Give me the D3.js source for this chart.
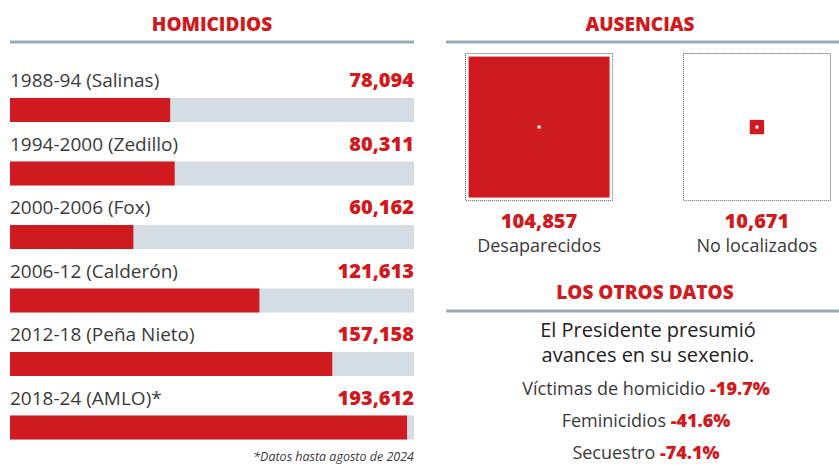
<!DOCTYPE html>
<html>
<head>
<meta charset="utf-8">
<script src="https://cdn.jsdelivr.net/npm/d3@7"></script>
<style>
  body { margin: 0; background: #fff; }
  text { font-family: "Open Sans", sans-serif; }
</style>
</head>
<body>
<div id="container"></div>
<script>
// CONSTANTS ###############################
const width = 839,
  height = 465;

const red = "#cf1a20",
  grey = "#d5dde4",
  rule = "#9aabb5",
  ink = "#3a3a3a";

// DATA ####################################
const periods = ["1988-94 (Salinas)", "1994-2000 (Zedillo)", "2000-2006 (Fox)",
  "2006-12 (Calderón)", "2012-18 (Peña Nieto)", "2018-24 (AMLO)*"];
const homicides = [78094, 80311, 60162, 121613, 157158, 193612];

const absenceLabels = ["Desaparecidos", "No localizados"];
const absenceValues = [104857, 10671];

const otherLabels = ["Víctimas de homicidio", "Feminicidios", "Secuestro"];
const otherValues = ["-19.7%", "-41.6%", "-74.1%"];

const fmt = d3.format(",");

// SVG ####################################
const svg = d3.select("#container")
  .append("svg")
  .attr("width", width)
  .attr("height", height);

// HOMICIDIOS ------------------------------
const left = { x0: 10, x1: 414 };

svg.append("text")
  .attr("x", 212).attr("y", 31)
  .attr("text-anchor", "middle")
  .attr("fill", red)
  .style("font-weight", 800)
  .style("font-size", "19px")
  .text("HOMICIDIOS");

svg.append("line")
  .attr("x1", left.x0).attr("x2", left.x1)
  .attr("y1", 42).attr("y2", 42)
  .attr("stroke", rule).attr("stroke-width", 3);

const xScale = d3.scaleLinear()
  .domain([0, 197000])
  .range([left.x0, left.x1]);

const yScale = d3.scaleBand()
  .domain(periods)
  .range([60, 441])
  .paddingInner(0);

const rows = svg.selectAll("g.row")
  .data(periods)
  .join("g")
  .attr("class", "row")
  .attr("transform", d => `translate(0,${yScale(d)})`);

rows.append("text")
  .attr("x", left.x0).attr("y", 27)
  .attr("fill", ink)
  .style("font-size", "19px")
  .text(d => d);

rows.append("text")
  .attr("x", left.x1).attr("y", 27)
  .attr("text-anchor", "end")
  .attr("fill", red)
  .style("font-weight", 800)
  .style("font-size", "20px")
  .text((d, i) => fmt(homicides[i]));

rows.append("rect")
  .attr("x", left.x0).attr("y", 38)
  .attr("width", left.x1 - left.x0)
  .attr("height", 24)
  .attr("fill", grey);

rows.append("rect")
  .attr("x", left.x0).attr("y", 38)
  .attr("width", (d, i) => xScale(homicides[i]) - left.x0)
  .attr("height", 24)
  .attr("fill", red);

svg.append("text")
  .attr("x", left.x1).attr("y", 461)
  .attr("text-anchor", "end")
  .attr("fill", ink)
  .style("font-style", "italic")
  .style("font-size", "12.5px")
  .text("*Datos hasta agosto de 2024");

// AUSENCIAS -------------------------------
svg.append("text")
  .attr("x", 640).attr("y", 31)
  .attr("text-anchor", "middle")
  .attr("fill", red)
  .style("font-weight", 800)
  .style("font-size", "19px")
  .text("AUSENCIAS");

svg.append("line")
  .attr("x1", 446).attr("x2", 839)
  .attr("y1", 42).attr("y2", 42)
  .attr("stroke", rule).attr("stroke-width", 3);

const boxScale = d3.scaleBand()
  .domain(absenceLabels)
  .range([465, 831])
  .paddingInner(0.32);

const sideScale = d3.scaleLinear()
  .domain([0, absenceValues[0]])
  .range([0, 141]);

const boxTop = 53;

const boxes = svg.selectAll("g.box")
  .data(absenceLabels)
  .join("g")
  .attr("class", "box")
  .attr("transform", d => `translate(${boxScale(d)},${boxTop})`);

const bw = boxScale.bandwidth();

boxes.append("rect")
  .attr("x", 0.5).attr("y", 0.5)
  .attr("width", bw - 1).attr("height", bw - 1)
  .attr("fill", "none")
  .attr("stroke", "#555")
  .attr("stroke-width", 1)
  .attr("stroke-dasharray", "1,1");

boxes.append("rect")
  .attr("x", (d, i) => bw / 2 - sideScale(absenceValues[i]) / 2)
  .attr("y", (d, i) => bw / 2 - sideScale(absenceValues[i]) / 2)
  .attr("width", (d, i) => sideScale(absenceValues[i]))
  .attr("height", (d, i) => sideScale(absenceValues[i]))
  .attr("fill", red);

boxes.append("rect")
  .attr("x", bw / 2 - 1.5).attr("y", bw / 2 - 1.5)
  .attr("width", 3).attr("height", 3)
  .attr("fill", "#fff");

boxes.append("text")
  .attr("x", bw / 2).attr("y", 175)
  .attr("text-anchor", "middle")
  .attr("fill", red)
  .style("font-weight", 800)
  .style("font-size", "20px")
  .text((d, i) => fmt(absenceValues[i]));

boxes.append("text")
  .attr("x", bw / 2).attr("y", 199)
  .attr("text-anchor", "middle")
  .attr("fill", ink)
  .style("font-size", "18px")
  .text(d => d);

// LOS OTROS DATOS -------------------------
svg.append("text")
  .attr("x", 645).attr("y", 299)
  .attr("text-anchor", "middle")
  .attr("fill", red)
  .style("font-weight", 800)
  .style("font-size", "19px")
  .text("LOS OTROS DATOS");

svg.append("line")
  .attr("x1", 446).attr("x2", 839)
  .attr("y1", 311).attr("y2", 311)
  .attr("stroke", rule).attr("stroke-width", 3);

svg.selectAll("text.intro")
  .data(["El Presidente presumió", "avances en su sexenio."])
  .join("text")
  .attr("class", "intro")
  .attr("x", 648)
  .attr("y", (d, i) => 337 + i * 25)
  .attr("text-anchor", "middle")
  .attr("fill", "#222")
  .style("font-size", "20px")
  .text(d => d);

const others = svg.selectAll("text.other")
  .data(otherLabels)
  .join("text")
  .attr("class", "other")
  .attr("x", 646)
  .attr("y", (d, i) => 395 + i * 32)
  .attr("text-anchor", "middle")
  .style("font-size", "18px");

others.append("tspan")
  .attr("fill", ink)
  .text(d => d + " ");

others.append("tspan")
  .attr("fill", red)
  .style("font-weight", 800)
  .text((d, i) => otherValues[i]);
</script>
</body>
</html>
